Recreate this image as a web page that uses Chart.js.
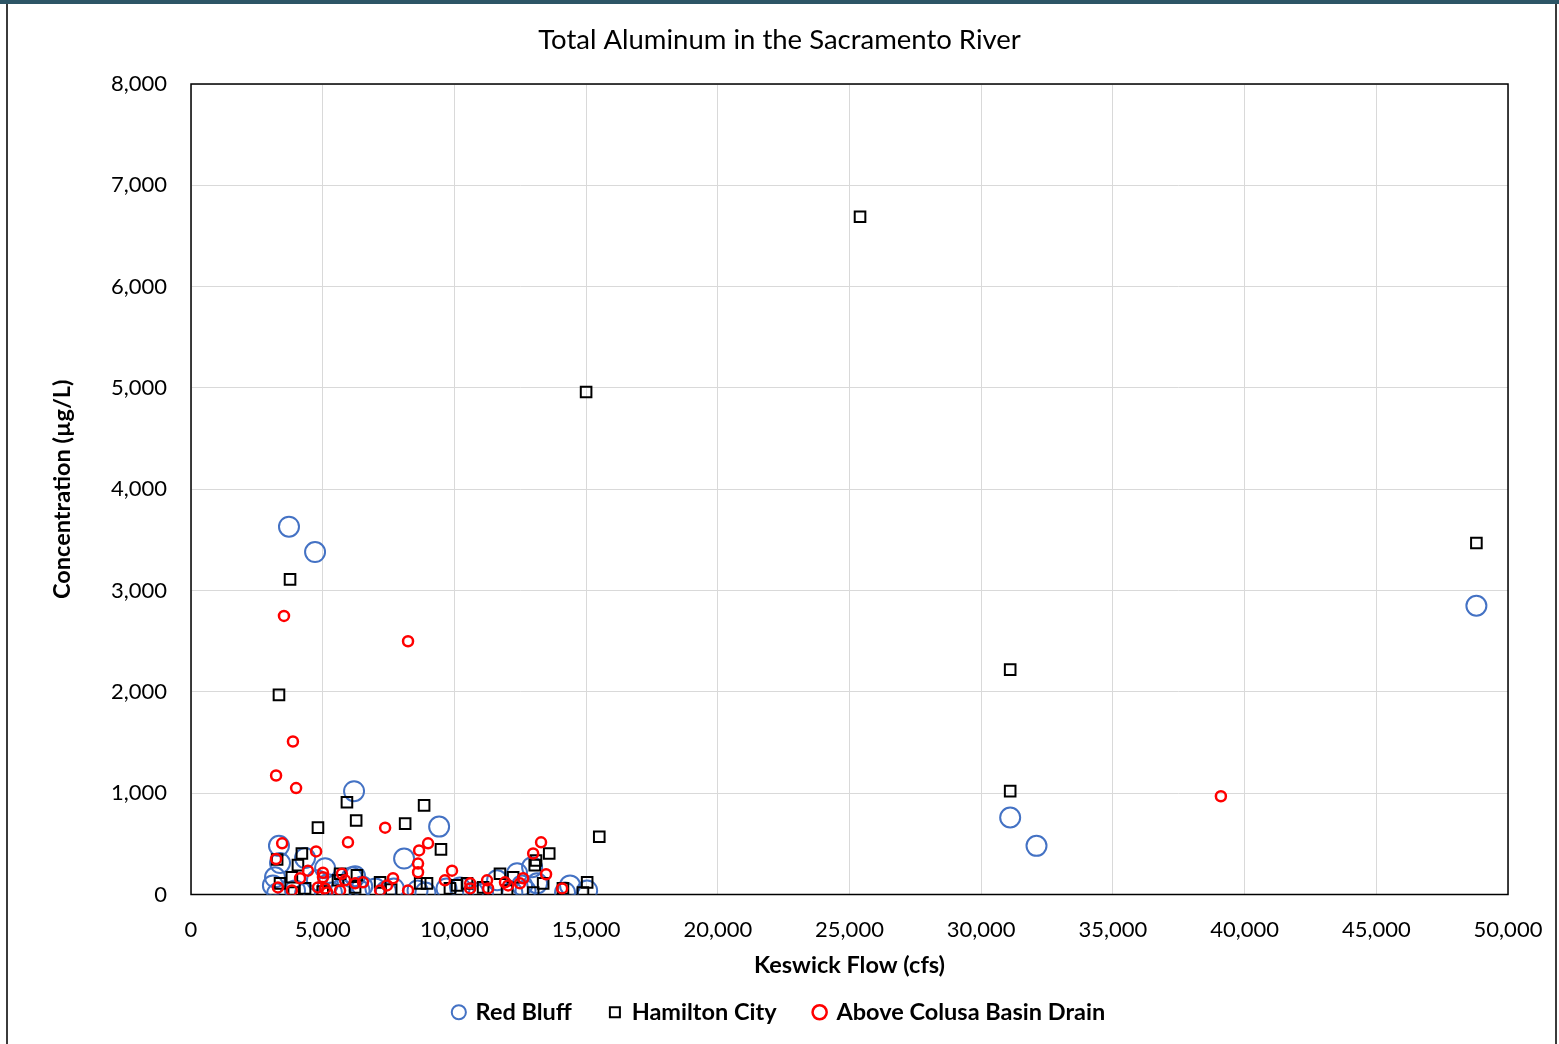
<!DOCTYPE html>
<html lang="en">
<head>
<meta charset="UTF-8">
<title>Total Aluminum in the Sacramento River</title>
<script src="https://cdn.jsdelivr.net/npm/chart.js"></script>
<style>
  html, body { margin: 0; padding: 0; background: #fff; }
  #wrap { position: relative; width: 1559px; height: 1044px; }
  #topBar { position: absolute; left: 0; top: 0; width: 1559px; height: 4px; background: #2d5566; }
  #leftLine { position: absolute; left: 6px; top: 4px; width: 2px; height: 1040px; background: #3b3b3b; }
  #rightLine { position: absolute; left: 1555px; top: 4px; width: 2px; height: 1040px; background: #3b3b3b; }
  canvas { display: block; }
</style>
</head>
<body>
<div id="wrap">
  <canvas id="chart" width="1559" height="1044"></canvas>
  <div id="topBar"></div>
  <div id="leftLine"></div>
  <div id="rightLine"></div>
</div>
<script>
// Keswick flow (cfs) and total aluminum (ug/L)
const redBluffFlow = [3720, 4710, 6190, 9420, 8090, 3340, 31100, 32100, 48800,
  3380, 3190, 3110, 3270, 3950, 4330, 4330, 4780, 5090, 5350, 6110, 6230, 6500,
  7000, 7400, 7700, 8600, 8900, 9700, 10210, 10710, 11090, 11620, 12380, 12570,
  12950, 13140, 14390, 15040, 14200, 12200, 12700, 5200, 5700, 6400];
const redBluffConc = [3630, 3380, 1020, 670, 355, 480, 760, 480, 2850,
  310, 170, 90, 10, 40, 360, 10, 140, 260, 20, 170, 180, 80,
  60, 30, 60, 40, 20, 60, 70, 20, 10, 140, 210, 90,
  270, 110, 90, 40, 20, 20, 40, 100, 50, 40];

const hamiltonFlow = [25400, 15000, 48800, 3760, 3340, 31100, 31100, 5920, 8850,
  4820, 6270, 8130, 15500, 9490, 13600, 4210, 3270, 13100, 13050, 4060, 3830,
  3380, 4330, 5580, 5660, 6300, 6230, 7180, 8700, 8960, 9830, 10100, 10480,
  11090, 11730, 12230, 12000, 12990, 13370, 14120, 15040, 14880, 7600, 5000, 3900];
const hamiltonConc = [6690, 4960, 3470, 3110, 1970, 2220, 1020, 910, 880,
  660, 730, 700, 570, 445, 405, 405, 345, 335, 290, 290, 170,
  110, 60, 140, 205, 190, 70, 120, 110, 110, 60, 90, 110,
  70, 205, 170, 40, 20, 110, 60, 120, 20, 50, 30, 20];

const colusaFlow = [3530, 8240, 3870, 3230, 3990, 39100, 7370, 3460, 4750, 5960,
  9000, 13290, 8660, 12990, 3230, 8620, 8620, 9910, 13480, 4440, 4140, 5010,
  5010, 5730, 5850, 6230, 3300, 3830, 5090, 5170, 5660, 4820, 9640, 6530,
  7670, 7440, 7180, 8240, 10600, 10600, 11240, 11280, 11920, 12040, 12610,
  12490, 14090];
const colusaConc = [2750, 2500, 1510, 1175, 1050, 970, 660, 505, 425, 515,
  505, 515, 435, 405, 350, 305, 220, 235, 200, 235, 160, 215,
  170, 205, 140, 110, 70, 40, 60, 20, 40, 70, 140, 120,
  160, 90, 40, 40, 110, 60, 140, 60, 120, 90, 160,
  110, 60];

const seriesNames = ['Red Bluff', 'Hamilton City', 'Above Colusa Basin Drain'];

function toPoints(xs, ys) {
  return xs.map((x, i) => ({ x: x, y: ys[i] }));
}

// black frame round the plot area
const plotBorder = {
  id: 'plotBorder',
  beforeDatasetsDraw(chart) {
    const { ctx, chartArea: a } = chart;
    ctx.save();
    ctx.strokeStyle = '#000';
    ctx.lineWidth = 1.5;
    ctx.strokeRect(a.left, a.top, a.right - a.left, a.bottom - a.top);
    ctx.restore();
  }
};

const fontName = 'Lato, "Open Sans", sans-serif';

new Chart(document.getElementById('chart').getContext('2d'), {
  type: 'scatter',
  data: {
    datasets: [
      {
        label: seriesNames[0],
        data: toPoints(redBluffFlow, redBluffConc),
        pointStyle: 'circle',
        pointRadius: 10,
        borderColor: '#4472C4',
        backgroundColor: 'rgba(0,0,0,0)',
        borderWidth: 2,
        order: 3
      },
      {
        label: seriesNames[1],
        data: toPoints(hamiltonFlow, hamiltonConc),
        pointStyle: 'rect',
        pointRadius: 7.5,
        borderColor: '#000000',
        backgroundColor: 'rgba(0,0,0,0)',
        borderWidth: 2,
        order: 2
      },
      {
        label: seriesNames[2],
        data: toPoints(colusaFlow, colusaConc),
        pointStyle: 'circle',
        pointRadius: 5,
        borderColor: '#FF0000',
        backgroundColor: 'rgba(0,0,0,0)',
        borderWidth: 2.5,
        order: 1
      }
    ]
  },
  options: {
    responsive: false,
    animation: false,
    layout: { padding: { left: 0, right: 0, top: 0, bottom: 10 } },
    scales: {
      x: {
        type: 'linear',
        min: 0,
        max: 50000,
        ticks: {
          stepSize: 5000,
          padding: 22,
          color: '#000',
          font: { family: fontName, size: 22 },
          callback: v => v.toLocaleString('en-US')
        },
        grid: { color: '#d9d9d9', lineWidth: 1, drawTicks: false },
        border: { display: false },
        title: {
          display: true,
          text: 'Keswick Flow (cfs)',
          color: '#000',
          font: { family: fontName, size: 23.5, weight: 'bold' },
          padding: { top: 0, bottom: -17 }
        },
        afterFit: s => { s.height = 68; s.paddingLeft = 0; s.paddingRight = 0; }
      },
      y: {
        min: 0,
        max: 8000,
        ticks: {
          stepSize: 1000,
          padding: 24,
          color: '#000',
          font: { family: fontName, size: 22 },
          callback: v => v.toLocaleString('en-US')
        },
        grid: { color: '#d9d9d9', lineWidth: 1, drawTicks: false },
        border: { display: false },
        title: {
          display: true,
          text: 'Concentration (µg/L)',
          color: '#000',
          font: { family: fontName, size: 23.5, weight: 'bold' },
          padding: { top: 48, bottom: 0 }
        },
        afterFit: s => { s.width = 191; }
      },
      // empty strip on the right so title and legend stay centred on the page
      yRight: {
        position: 'right',
        display: true,
        grid: { display: false },
        ticks: { display: false },
        border: { display: false },
        afterFit: s => { s.width = 51; }
      }
    },
    plugins: {
      title: {
        display: true,
        text: 'Total Aluminum in the Sacramento River',
        color: '#000',
        font: { family: fontName, size: 27.5, weight: 'normal' },
        padding: { top: 23.5, bottom: 27.5 }
      },
      legend: {
        position: 'bottom',
        labels: {
          usePointStyle: true,
          boxWidth: 10,
          boxHeight: 10,
          padding: 38,
          color: '#000',
          font: { family: fontName, size: 23.5, weight: 'bold' },
          sort: (a, b) => a.datasetIndex - b.datasetIndex
        }
      },
      tooltip: { enabled: false }
    }
  },
  plugins: [plotBorder]
});
</script>
</body>
</html>
